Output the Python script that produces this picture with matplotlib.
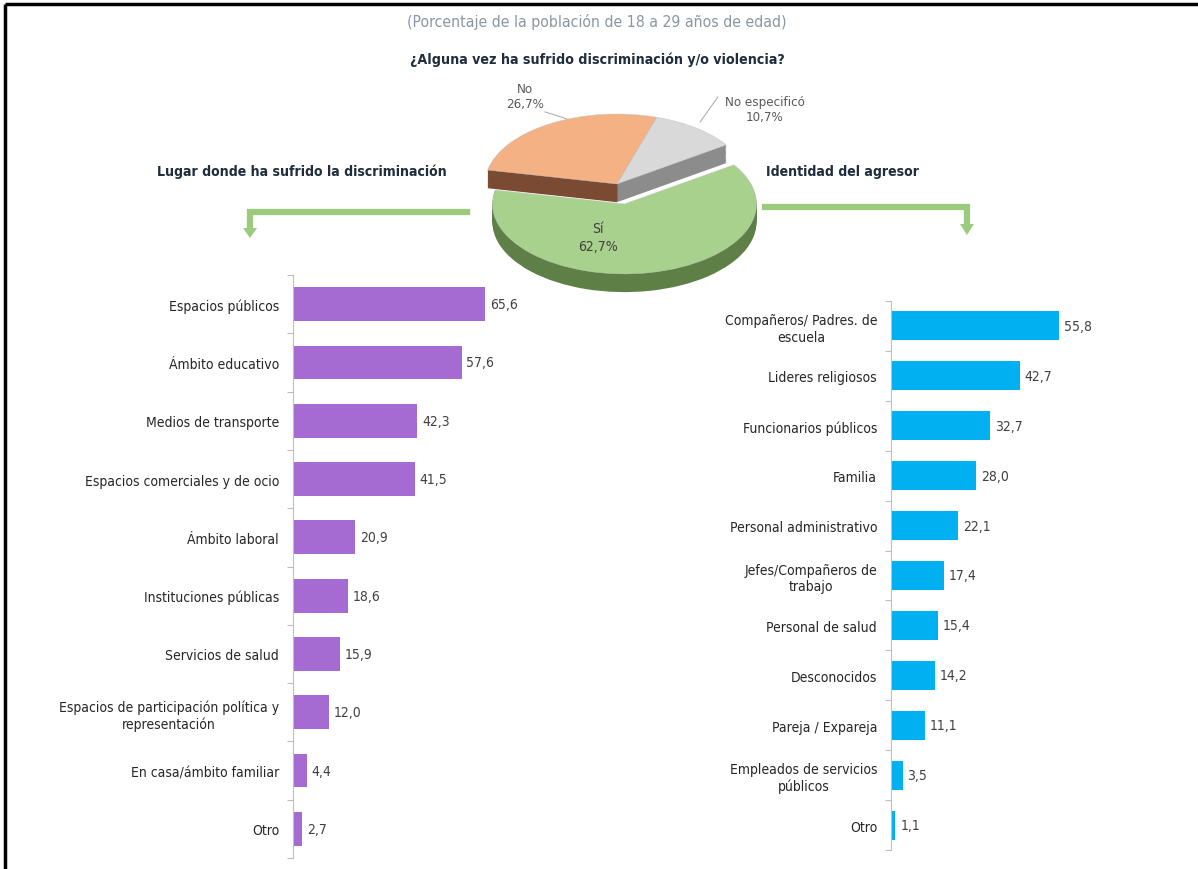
import matplotlib.pyplot as plt
import numpy as np

W, H = 1198, 870

pie_labels = ["Sí", "No", "No especificó"]
pie_values = [62.7, 26.7, 10.7]

lugar = ["Espacios públicos", "Ámbito educativo", "Medios de transporte",
         "Espacios comerciales y de ocio", "Ámbito laboral", "Instituciones públicas",
         "Servicios de salud", "Espacios de participación política y\nrepresentación",
         "En casa/ámbito familiar", "Otro"]
lugar_pct = [65.6, 57.6, 42.3, 41.5, 20.9, 18.6, 15.9, 12.0, 4.4, 2.7]

agresor = ["Compañeros/ Padres. de\nescuela", "Lideres religiosos", "Funcionarios públicos",
           "Familia", "Personal administrativo", "Jefes/Compañeros de\ntrabajo",
           "Personal de salud", "Desconocidos", "Pareja / Expareja",
           "Empleados de servicios\npúblicos", "Otro"]
agresor_pct = [55.8, 42.7, 32.7, 28.0, 22.1, 17.4, 15.4, 14.2, 11.1, 3.5, 1.1]

plt.rcParams["font.family"] = ["DejaVu Sans"]
plt.rcParams["font.stretch"] = "condensed"


def fmt(v):
    return f"{v:.1f}".replace(".", ",")


def px_axes(x0, y0, x1, y1):
    return fig.add_axes([x0 / W, 1 - y1 / H, (x1 - x0) / W, (y1 - y0) / H])


fig = plt.figure(figsize=(W / 100, H / 100), dpi=100)

# overlay in pixel units for frame, titles and arrows
ov = fig.add_axes([0, 0, 1, 1])
ov.set_xlim(0, W)
ov.set_ylim(H, 0)
ov.axis("off")
ov.plot([5, W], [5, 5], color="black", lw=2.5, solid_capstyle="butt")
ov.plot([5, 5], [5, H], color="black", lw=2.5, solid_capstyle="butt")

ov.text(597, 22, "(Porcentaje de la población de 18 a 29 años de edad)",
        ha="center", va="center", fontsize=11.3, color="#8A96A3")
ov.text(597, 60, "¿Alguna vez ha sufrido discriminación y/o violencia?",
        ha="center", va="center", fontsize=10.2, fontweight="bold", color="#1F2D3D")
ov.text(302, 172, "Lugar donde ha sufrido la discriminación",
        ha="center", va="center", fontsize=10.1, fontweight="bold", color="#1F2D3D")
ov.text(766, 172, "Identidad del agresor",
        ha="left", va="center", fontsize=10.1, fontweight="bold", color="#1F2D3D")

green = "#9CCB7E"
ov.plot([467, 250, 250], [213, 213, 230], color=green, lw=4.5, solid_joinstyle="miter")
ov.fill([243, 257, 250], [229, 229, 239], color=green, lw=0)
ov.plot([765, 967, 967], [208, 208, 226], color=green, lw=4.5, solid_joinstyle="miter")
ov.fill([960, 974, 967], [225, 225, 236], color=green, lw=0)

# 3D-looking pie: stacked darker layers, then the top face
pa = px_axes(470, 95, 770, 310)
tops = ["#A9D18E", "#F4B183", "#D9D9D9"]
sides = ["#5E7F45", "#7A4A33", "#8C8C8C"]
explode = [0.29, 0, 0]
depth = 0.26
for off in np.linspace(depth, 0.01, 16):
    pa.pie(pie_values, colors=sides, startangle=34, counterclock=False,
           explode=explode, center=(0, -off), wedgeprops=dict(linewidth=0))
pa.pie(pie_values, colors=tops, startangle=34, counterclock=False,
       explode=explode, center=(0, 0), wedgeprops=dict(linewidth=0.3, edgecolor="#C8C8C8"))
pa.set_aspect("auto")
pa.set_xlim(-147 / 132, 153 / 132)
pa.set_ylim(-125 / 70, 90 / 70)
pa.axis("off")

lab_col = "#595959"
pa.text(-0.144, -0.757, f"{pie_labels[0]}\n{fmt(pie_values[0])}%", ha="center", va="center",
        fontsize=10, color="#404040", linespacing=1.3)
pa.text(-0.697, 1.257, f"{pie_labels[1]}\n{fmt(pie_values[1])}%", ha="center", va="center",
        fontsize=9.5, color=lab_col, linespacing=1.2, clip_on=False)
pa.text(1.121, 1.071, f"{pie_labels[2]}\n{fmt(pie_values[2])}%", ha="center", va="center",
        fontsize=9.5, color=lab_col, linespacing=1.2, clip_on=False)
pa.plot([-0.545, -0.38], [1.03, 0.93], color="#A6A6A6", lw=0.7, clip_on=False)
pa.plot([0.765, 0.71, 0.63], [1.243, 1.10, 0.886], color="#A6A6A6", lw=0.7, clip_on=False)


def bars(ax, labels, vals, color, xmax):
    n = len(labels)
    y = np.arange(n)
    ax.barh(y, vals, height=0.58, color=color, left=0.4)
    for yi, v in zip(y, vals):
        ax.text(0.4 + v + 1.6, yi, fmt(v), va="center", ha="left", fontsize=10, color="#404040")
    ax.set_ylim(n - 0.5, -0.5)
    ax.set_xlim(0, xmax)
    ax.set_yticks(y)
    ax.set_yticklabels(labels, fontsize=10, color="#262626", multialignment="center")
    ax.set_yticks(np.arange(n + 1) - 0.5, minor=True)
    ax.tick_params(axis="y", which="major", length=0, pad=10)
    ax.tick_params(axis="y", which="minor", length=4, color="#BFBFBF", width=0.8)
    ax.set_xticks([])
    for s in ["top", "right", "bottom"]:
        ax.spines[s].set_visible(False)
    ax.spines["left"].set_color("#BFBFBF")
    ax.spines["left"].set_linewidth(0.8)


left_ax = px_axes(293, 276, 293 + 70 * 2.91, 859)
bars(left_ax, lugar, lugar_pct, "#A66BD3", 70)

right_ax = px_axes(891, 302, 891 + 62 * 2.99, 851)
bars(right_ax, agresor, agresor_pct, "#00B0F0", 62)

fig.savefig("out.png", dpi=100)
